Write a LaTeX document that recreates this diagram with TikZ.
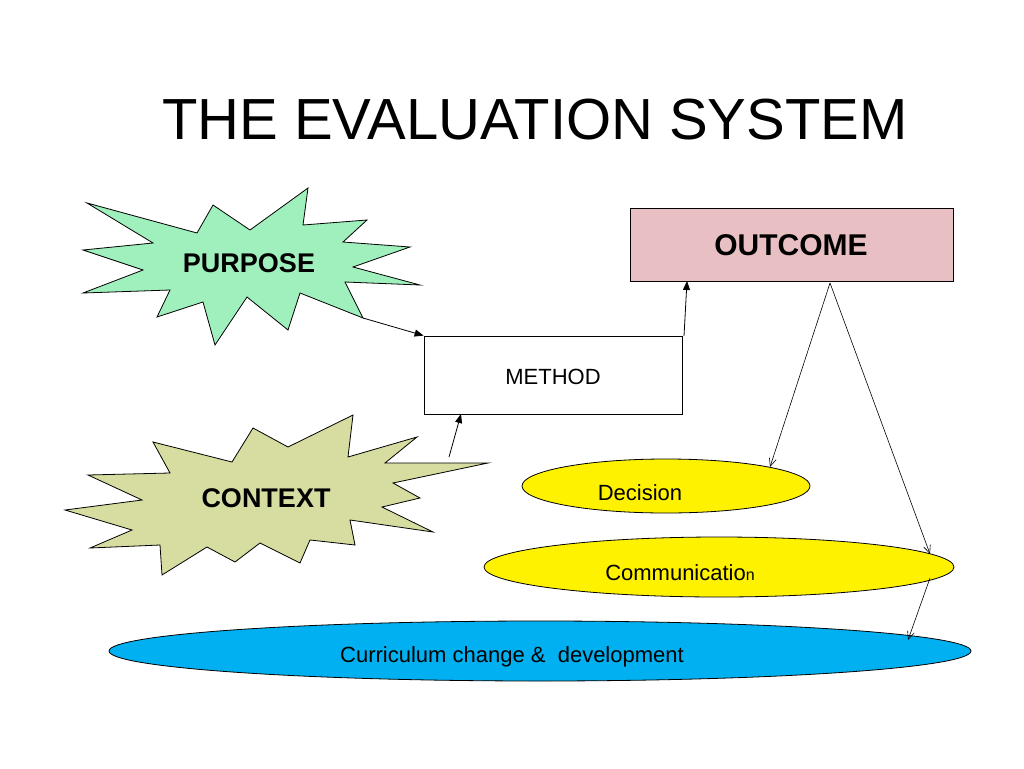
\documentclass[tikz,border=0pt]{standalone}
\usepackage{fontspec}
\setmainfont{Liberation Sans}
\usetikzlibrary{arrows.meta,shapes.geometric}
\begin{document}
\begin{tikzpicture}[x=1pt,y=-1pt,
  star/.style={draw=black,line width=0.8pt,line join=miter},
  conn/.style={draw=black,line width=0.8pt,-{Triangle[length=9pt,width=7pt]}},
  thin/.style={draw=black,line width=0.6pt,-{Straight Barb[length=8pt,width=7pt]}},
  ell/.style={draw=black,line width=0.8pt,ellipse,inner sep=0pt}]
\useasboundingbox (0,0) rectangle (1024,768);
\node[anchor=center] (title) at (535,120) {\fontsize{58}{60}\selectfont THE EVALUATION SYSTEM};
\draw[star,fill={rgb,255:red,160;green,240;blue,190}] (87,203)--(197,233)--(213,205)--(250,230)--(308,188)--(303,225)--(367,220)--(343,242)--(410,247)--(353,267)--(420,285)--(345,282)--(363,318)--(300,293)--(288,330)--(247,297)--(215,345)--(203,302)--(157,317)--(170,290)--(83,293)--(143,270)--(83,250)--(153,243)--cycle;
\coordinate (ptip) at (363,318);
\node (purpose) at (249,263) {\fontsize{27}{30}\selectfont\bfseries PURPOSE};
\draw[star,fill={rgb,255:red,215;green,220;blue,160}] (153,442)--(170,473)--(88,475)--(142,500)--(65,510)--(132,530)--(90,548)--(160,545)--(162,575)--(207,547)--(235,562)--(260,543)--(300,563)--(310,540)--(355,545)--(350,520)--(433,532)--(382,507)--(420,498)--(393,483)--(488,463)--(385,463)--(417,437)--(348,457)--(353,415)--(288,447)--(253,428)--(232,462)--cycle;
\coordinate (ctip) at (449,457);
\node (context) at (266,498) {\fontsize{27}{30}\selectfont\bfseries CONTEXT};
\node[draw=black,line width=0.8pt,minimum width=258pt,minimum height=78pt] (method) at (553,375) {};
\node at (553,377) {\fontsize{22}{24}\selectfont METHOD};
\node[draw=black,line width=0.8pt,fill={rgb,255:red,232;green,192;blue,196},minimum width=323pt,minimum height=73pt] (outcome) at (791.5,244.5) {};
\node at (791,245) {\fontsize{30}{32}\selectfont\bfseries OUTCOME};
\node[ell,fill=yellow,minimum width=288pt,minimum height=54pt] (decision) at (666,486) {};
\node at (640,493) {\fontsize{22}{24}\selectfont Decision};
\node[ell,fill=yellow,minimum width=470pt,minimum height=60pt] (comm) at (719,567) {};
\node at (680,573) {\fontsize{22}{24}\selectfont Communicatio{\fontsize{16}{18}\selectfont n}};
\node[ell,fill={rgb,255:red,0;green,176;blue,240},minimum width=862pt,minimum height=60pt] (curr) at (540,651) {};
\node at (512,657) {\fontsize{22}{24}\selectfont Curriculum change \&\ \ development};
\coordinate (mtop) at (684,336);
\coordinate (obot) at (687,281);
\coordinate (ob) at (830,283);
\coordinate (dend) at (770,467);
\coordinate (cend) at (930,554);
\coordinate (cr) at (930,578);
\coordinate (kend) at (908,640);
\draw[conn] (ptip) -- (method.north west);
\draw[conn] (ctip) -- (461,414);
\draw[conn] (mtop) -- (obot);
\draw[thin] (ob) -- (dend);
\draw[thin] (ob) -- (cend);
\draw[thin] (cr) -- (kend);
\end{tikzpicture}
\end{document}
